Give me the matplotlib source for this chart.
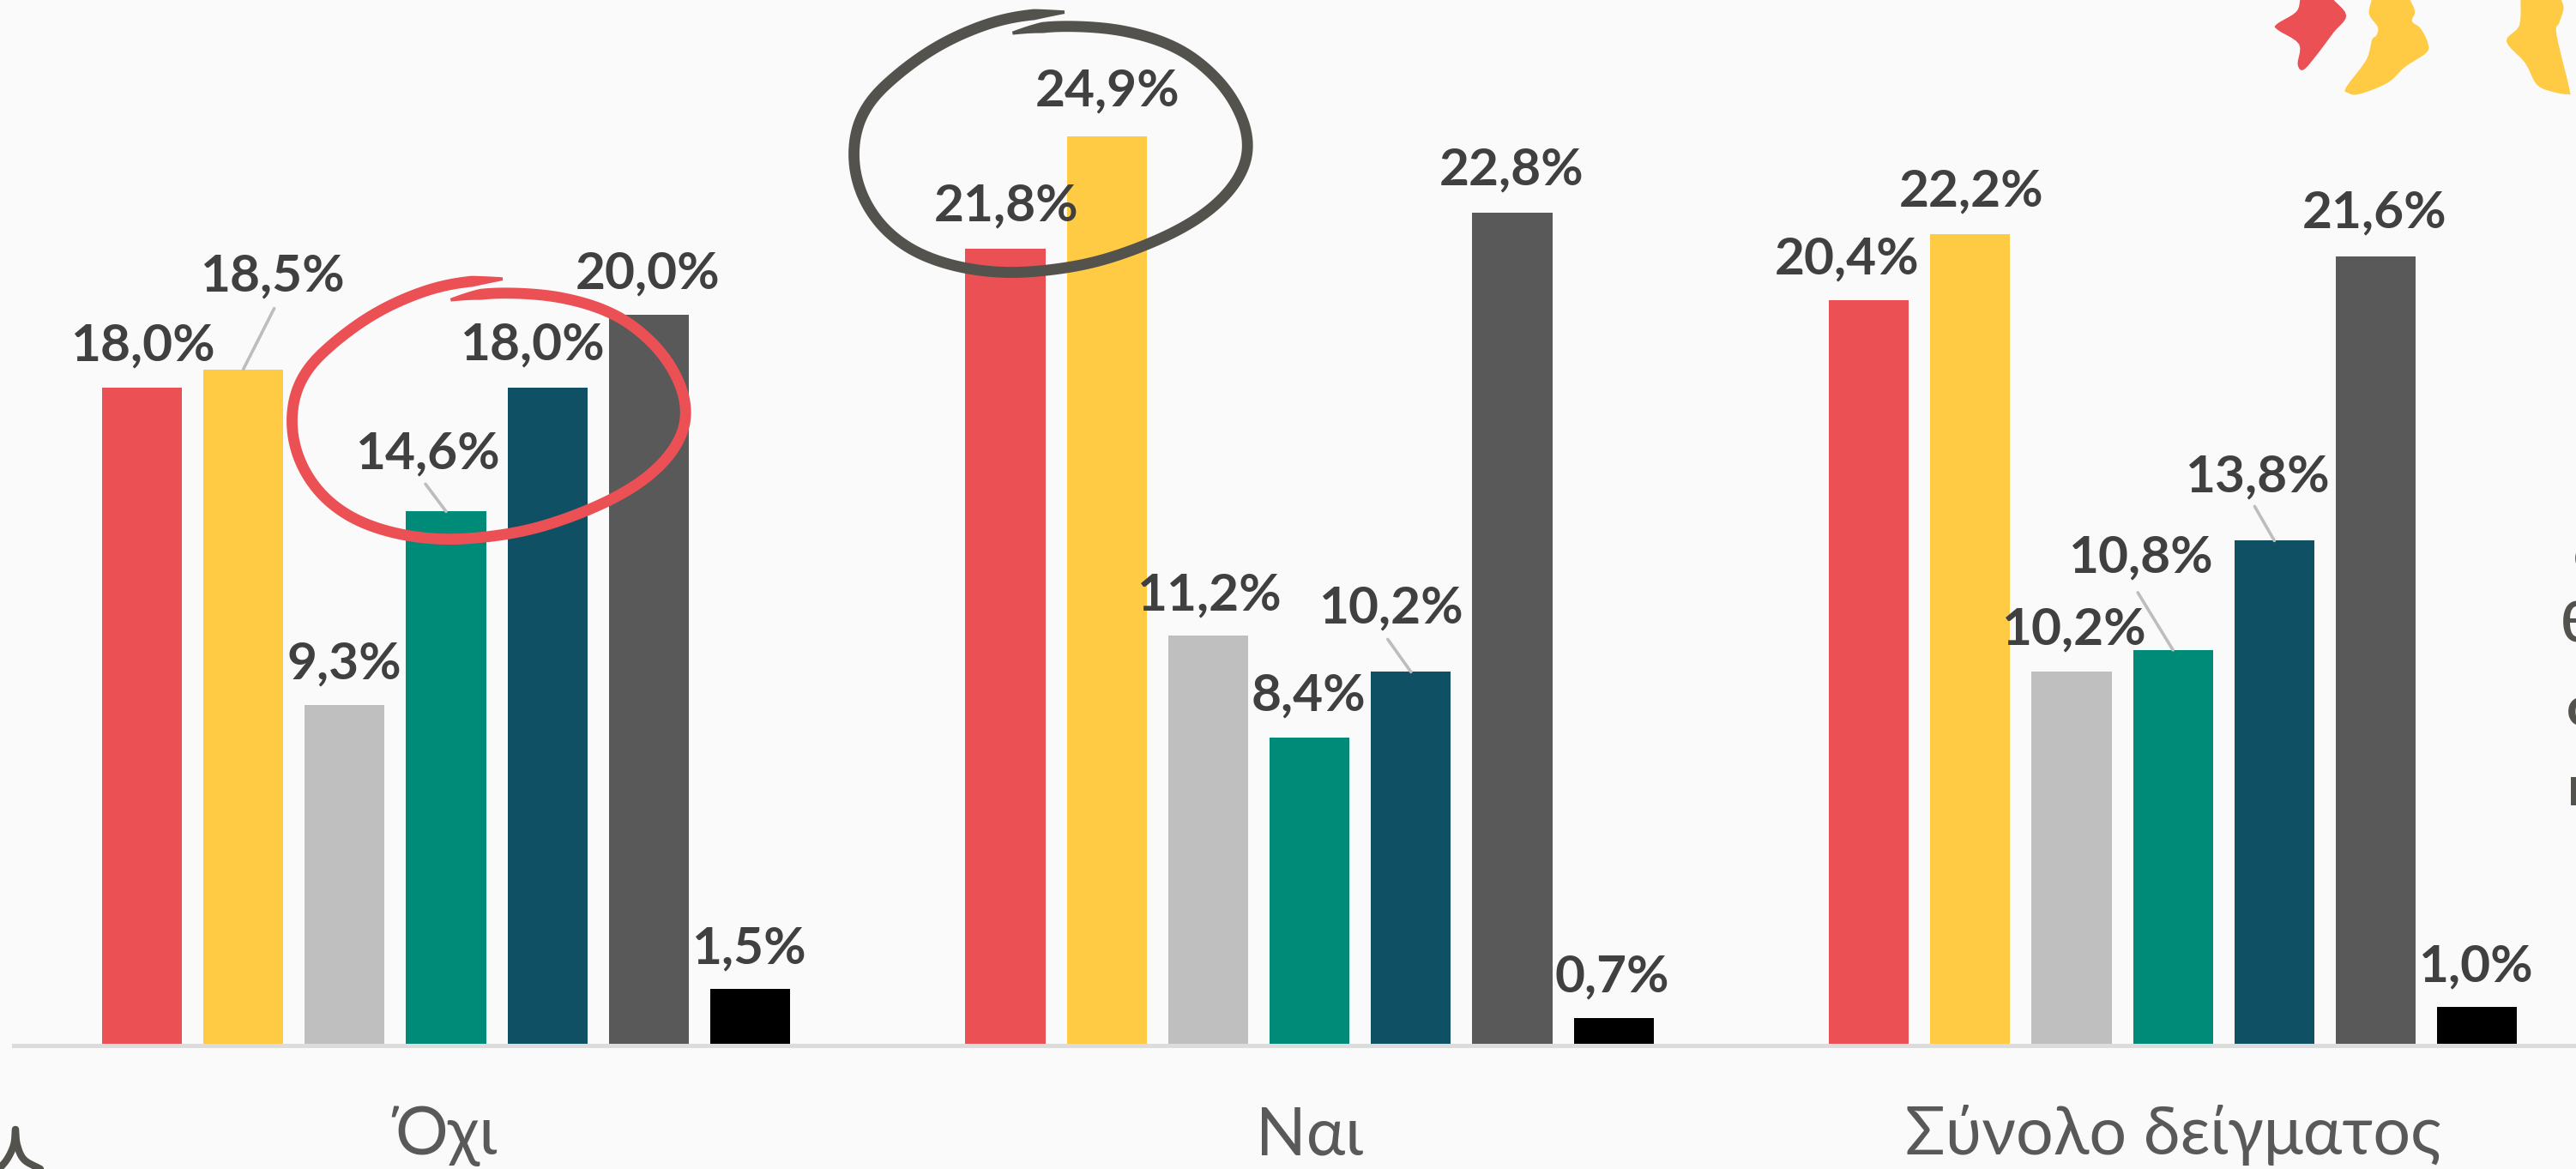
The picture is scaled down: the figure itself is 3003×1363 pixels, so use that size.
import numpy as np
import matplotlib
matplotlib.use("Agg")
import matplotlib.pyplot as plt
from matplotlib.patches import Polygon
from matplotlib.transforms import Affine2D

W, H = 3003, 1363
categories = ["Όχι", "Ναι", "Σύνολο δείγματος"]
no_values = [18.0, 18.5, 9.3, 14.6, 18.0, 20.0, 1.5]
yes_values = [21.8, 24.9, 11.2, 8.4, 10.2, 22.8, 0.7]
total_values = [20.4, 22.2, 10.2, 10.8, 13.8, 21.6, 1.0]
series_colors = ["#EB5055", "#FFCB44", "#BFBFBF", "#008A78", "#105064", "#595959", "#000000"]

# label offsets from bar top centre, in pixels (layout only)
label_offsets = [
    [(1, 52), (34, 111), (0, 50), (-22, 70), (-18, 53), (-1, 51), (-2, 50)],
    [(1, 53), (1, 55), (1, 50), (-1, 52), (-23, 77), (-1, 53), (-2, 51)],
    [(-25, 51), (1, 53), (2, 52), (-38, 111), (-20, 77), (-1, 54), (-2, 50)],
]
leaders = {(0, 1): (36, 71), (0, 3): (-24, 32), (1, 4): (-27, 38), (2, 3): (-41, 67), (2, 4): (-23, 40)}

plt.rcParams["font.family"] = ["Lato", "Open Sans", "DejaVu Sans"]
BG = "#FAFAFA"
fig = plt.figure(figsize=((W + 0.2) / 100, (H + 0.2) / 100), dpi=100, facecolor=BG)
base_px, px_per_pct, left_px = 1217, 42.5, 16
ax = fig.add_axes([left_px / W, 1 - base_px / H, 1 - left_px / W, base_px / H])
ax.set_facecolor("none")
group_px, pitch_px, width_px, c0_px = 1006.5, 118.2, 93.3, 520.0
ax.set_xlim((left_px - c0_px) / group_px, (W - c0_px) / group_px)
ax.set_ylim(0, base_px / px_per_pct)
pitch, width = pitch_px / group_px, width_px / group_px

groups = [no_values, yes_values, total_values]
for g, vals in enumerate(groups):
    for i, v in enumerate(vals):
        x = g + (i - 3) * pitch
        ax.bar(x, v, width=width, color=series_colors[i], zorder=2, linewidth=0)
        if (g, i) in leaders:
            ax.annotate("", xy=(x, v), xytext=leaders[(g, i)], textcoords="offset pixels",
                        arrowprops=dict(arrowstyle="-", color="#BDBDBD", lw=2.6, shrinkA=0, shrinkB=0), zorder=3)
        dx, dy = label_offsets[g][i]
        ax.annotate(f"{v:.1f}%".replace(".", ","), xy=(x, v), xytext=(dx, dy - 3), textcoords="offset pixels",
                    ha="center", va="center", fontsize=43.5, fontweight="bold", color="#404040", zorder=6)

for s in ["top", "left", "right"]:
    ax.spines[s].set_visible(False)
ax.spines["bottom"].set_position(("outward", 1.8))
ax.spines["bottom"].set_color("#DCDCDC")
ax.spines["bottom"].set_linewidth(3.6)
ax.spines["bottom"].set_zorder(1)
ax.set_yticks([])
ax.set_xticks(range(3))
ax.set_xticklabels(categories, fontsize=55.5, color="#595959")
ax.tick_params(axis="x", length=0, pad=50)

# pixel-space decorations
px = Affine2D().scale(1 / W, -1 / H).translate(0, 1) + fig.transFigure

def spline(pts, n=14):
    p = np.array(pts, float)
    p = np.vstack([2 * p[0] - p[1], p, 2 * p[-1] - p[-2]])
    out = []
    for k in range(1, len(p) - 2):
        t = np.linspace(0, 1, n, endpoint=False)[:, None]
        a, b, c, d = p[k - 1], p[k], p[k + 1], p[k + 2]
        out.append(0.5 * (2 * b + (c - a) * t + (2 * a - 5 * b + 4 * c - d) * t ** 2 + (3 * b - a - 3 * c + d) * t ** 3))
    out.append(p[-2:-1])
    return np.vstack(out)

def smooth_curve(c, win=31):
    seg = np.r_[0, np.cumsum(np.hypot(*np.diff(c, axis=0).T))]
    s = np.arange(0, seg[-1], 2.0)
    r = np.c_[np.interp(s, seg, c[:, 0]), np.interp(s, seg, c[:, 1])]
    pad = win // 2
    padded = np.vstack([2 * r[0] - r[pad:0:-1], r, 2 * r[-1] - r[-2:-pad - 2:-1]])
    kern = np.ones(win) / win
    return np.c_[np.convolve(padded[:, 0], kern, "valid"), np.convolve(padded[:, 1], kern, "valid")]

stroke = np.array([(815, 76), (700, 85), (610, 100), (500, 140), (400, 190), (300, 260), (200, 350), (140, 430),
                   (112, 550), (120, 650), (160, 760), (230, 850), (300, 905), (400, 950), (500, 975), (620, 988),
                   (750, 980), (900, 955), (1050, 905), (1200, 835), (1320, 750), (1400, 650), (1430, 555),
                   (1415, 470), (1370, 370), (1300, 285), (1200, 205), (1100, 165), (1000, 138), (850, 125),
                   (720, 130), (640, 150)], float)
stroke_px = np.c_[300 + stroke[:, 0] / 2.85, 300 + stroke[:, 1] / 3]

def hand_circle(shift, color):
    c = smooth_curve(spline(stroke_px + shift))
    d = np.gradient(c, axis=0)
    d /= np.maximum(np.hypot(d[:, 0], d[:, 1])[:, None], 1e-6)
    nrm = np.c_[-d[:, 1], d[:, 0]]
    s = np.linspace(0, 1, len(c))
    w = 6.4 * np.minimum(1, np.minimum(s / 0.04, (1 - s) / 0.04) + 0.3)[:, None]
    poly = np.vstack([c + nrm * w, (c - nrm * w)[::-1]])
    ax.add_patch(Polygon(poly, closed=True, fc=color, ec="none", transform=px, zorder=5, clip_on=False))

hand_circle((0, 0), "#EB5055")
hand_circle((655, -311), "#54524D")

def zoom_shape(pts, color):
    p = np.array(pts, float) / 3 + (2500, 0)
    ax.add_patch(Polygon(spline(p, 5), closed=True, fc=color, ec="none", transform=px, zorder=4, clip_on=False))

zoom_shape([(545, -6), (530, 42), (462, 85), (465, 105), (540, 155), (535, 225), (555, 245), (600, 195), (660, 115),
            (705, 55), (655, -6)], "#EB5055")
zoom_shape([(795, -6), (785, 50), (815, 95), (810, 125), (795, 140), (775, 210), (705, 305), (710, 325), (750, 330),
            (850, 290), (910, 235), (985, 185), (990, 150), (965, 100), (935, 75), (945, 40), (925, -6)], "#FFCB44")
zoom_shape([(1315, -6), (1310, 90), (1265, 145), (1330, 220), (1370, 295), (1420, 320), (1480, 330), (1485, 310),
            (1440, 120), (1450, 80), (1465, 30), (1455, -6)], "#FFCB44")

# bottom-left fragment
frag = spline([(18, 1317), (16, 1335), (8, 1352), (-4, 1366)], 8)
frag2 = spline([(18, 1317), (20, 1335), (28, 1352), (47, 1363)], 8)
for f in (frag, frag2):
    ax.plot(f[:, 0], f[:, 1], color="#54524D", lw=6, solid_capstyle="round", transform=px, clip_on=False, zorder=4)

# clipped text at right edge
for txt, x, y in [("σ", 3000, 648), ("θ", 2985, 730), ("ο", 2992, 828), ("κ", 2993, 920)]:
    ax.text(x, y, txt, transform=px, fontsize=47, fontweight="bold", color="#54524D", ha="left", va="center", clip_on=False)

fig.savefig("out.png", dpi=100, facecolor=BG)
